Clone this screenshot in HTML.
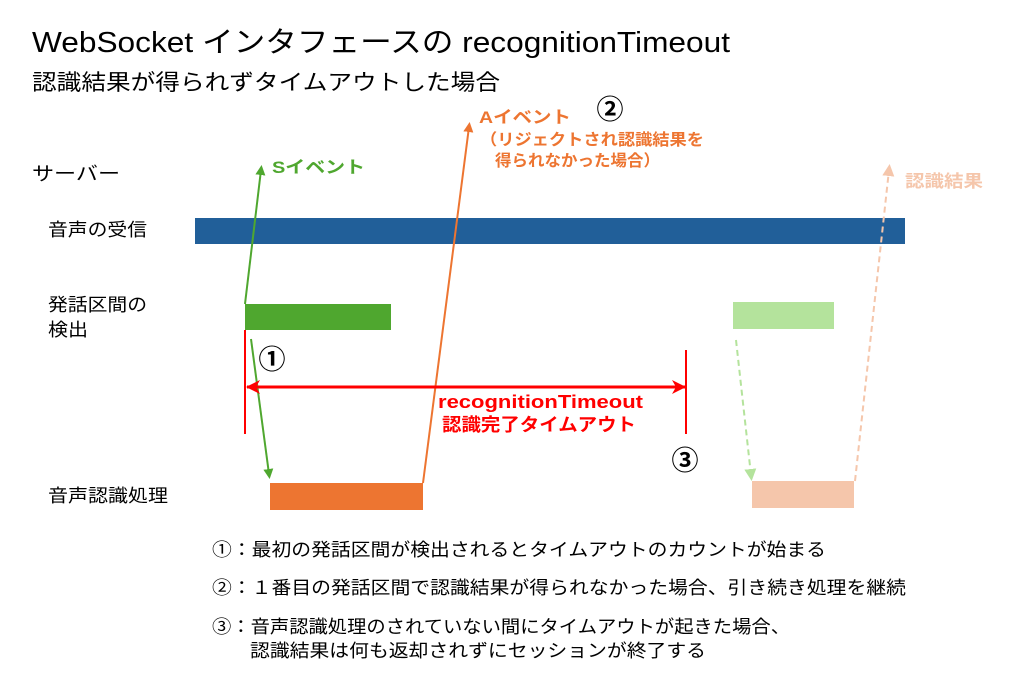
<!DOCTYPE html>
<html><head><meta charset="utf-8"><style>
body{margin:0;width:1024px;height:670px;background:#fff;overflow:hidden;font-family:"Liberation Sans","Noto Sans CJK JP",sans-serif;}
svg text{font-family:"Liberation Sans","Noto Sans CJK JP",sans-serif;}
</style></head><body>
<svg width="1024" height="670" xmlns="http://www.w3.org/2000/svg">
<defs>
<marker id="g" markerWidth="10" markerHeight="10" refX="5" refY="5" orient="auto" markerUnits="userSpaceOnUse"><path d="M0,0 L10,5 L0,10 z" fill="#4fa72f"/></marker>
<marker id="o" markerWidth="10" markerHeight="10" refX="5" refY="5" orient="auto" markerUnits="userSpaceOnUse"><path d="M0,0 L10,5 L0,10 z" fill="#ed7531"/></marker>
<marker id="lg" markerWidth="12" markerHeight="12" refX="6" refY="6" orient="auto" markerUnits="userSpaceOnUse"><path d="M0,0 L12,6 L0,12 z" fill="#b4e39c"/></marker>
<marker id="pc" markerWidth="12" markerHeight="12" refX="6" refY="6" orient="auto" markerUnits="userSpaceOnUse"><path d="M0,0 L12,6 L0,12 z" fill="#f5c6ab"/></marker>
<marker id="r" markerWidth="14" markerHeight="14" refX="13" refY="7" orient="auto" markerUnits="userSpaceOnUse"><path d="M0,0 L14,7 L0,14 L4,7 z" fill="#ff0000"/></marker>
</defs>
<g lengthAdjust="spacingAndGlyphs">
<text x="32" y="52" font-size="29" textLength="698" lengthAdjust="spacingAndGlyphs">WebSocket インタフェースの recognitionTimeout</text>
<text x="32" y="90" font-size="22" textLength="468" lengthAdjust="spacingAndGlyphs">認識結果が得られずタイムアウトした場合</text>
<text x="32" y="180" font-size="19" textLength="88" lengthAdjust="spacingAndGlyphs">サーバー</text>
<text x="48" y="236" font-size="18" textLength="99" lengthAdjust="spacingAndGlyphs">音声の受信</text>
<text x="48" y="311" font-size="18" textLength="99" lengthAdjust="spacingAndGlyphs">発話区間の</text>
<text x="48" y="336" font-size="18" textLength="40" lengthAdjust="spacingAndGlyphs">検出</text>
<text x="48" y="502" font-size="18" textLength="120" lengthAdjust="spacingAndGlyphs">音声認識処理</text>
</g>
<rect x="195" y="218" width="710" height="26" fill="#215f99"/>
<rect x="245" y="304" width="146" height="26" fill="#4fa72f"/>
<rect x="270" y="483" width="153" height="27" fill="#ed7531"/>
<rect x="733" y="302" width="101" height="27" fill="#b4e39c"/>
<rect x="752" y="481" width="102" height="27" fill="#f5c6ab"/>
<line x1="245" y1="304" x2="261" y2="170" stroke="#4fa72f" stroke-width="2" marker-end="url(#g)"/>
<line x1="251" y1="339" x2="269" y2="474" stroke="#4fa72f" stroke-width="2" marker-end="url(#g)"/>
<line x1="423" y1="483" x2="469" y2="127" stroke="#ed7531" stroke-width="2" marker-end="url(#o)"/>
<line x1="736" y1="340" x2="751" y2="475" stroke="#b4e39c" stroke-width="2" stroke-dasharray="6,4" marker-end="url(#lg)"/>
<line x1="855" y1="481" x2="889" y2="170" stroke="#f5c6ab" stroke-width="2" stroke-dasharray="6,4" marker-end="url(#pc)"/>
<line x1="245" y1="330" x2="245" y2="434" stroke="#ff0000" stroke-width="2"/>
<line x1="686" y1="350" x2="686" y2="434" stroke="#ff0000" stroke-width="2"/>
<line x1="262" y1="387" x2="685" y2="387" stroke="#ff0000" stroke-width="3" marker-end="url(#r)"/>
<line x1="670" y1="387" x2="247" y2="387" stroke="#ff0000" stroke-width="3" marker-end="url(#r)"/>
<text x="438" y="408" font-size="18" font-weight="bold" fill="#ff0000" textLength="205" lengthAdjust="spacingAndGlyphs">recognitionTimeout</text>
<text x="442" y="431" font-size="18" font-weight="bold" fill="#ff0000" textLength="194" lengthAdjust="spacingAndGlyphs">認識完了タイムアウト</text>
<text x="272" y="173" font-size="17" font-weight="bold" fill="#4fa72f" textLength="93" lengthAdjust="spacingAndGlyphs">Sイベント</text>
<text x="479" y="123" font-size="17" font-weight="bold" fill="#ed7531" textLength="92" lengthAdjust="spacingAndGlyphs">Aイベント</text>
<text x="480" y="145" font-size="16" font-weight="bold" fill="#ed7531" textLength="224" lengthAdjust="spacingAndGlyphs">（リジェクトされ認識結果を</text>
<text x="495" y="166" font-size="16" font-weight="bold" fill="#ed7531" textLength="165" lengthAdjust="spacingAndGlyphs">得られなかった場合）</text>
<text x="905" y="187" font-size="17" font-weight="bold" fill="#f5c6ab" textLength="78" lengthAdjust="spacingAndGlyphs">認識結果</text>
<text x="272" y="369" font-size="27" font-weight="bold" text-anchor="middle">①</text>
<text x="610" y="119" font-size="27" font-weight="bold" text-anchor="middle">②</text>
<text x="685" y="470" font-size="27" font-weight="bold" text-anchor="middle">③</text>
<text x="212" y="556" font-size="18" textLength="614" lengthAdjust="spacingAndGlyphs">①：最初の発話区間が検出されるとタイムアウトのカウントが始まる</text>
<text x="212" y="594" font-size="18" textLength="694" lengthAdjust="spacingAndGlyphs">②：１番目の発話区間で認識結果が得られなかった場合、引き続き処理を継続</text>
<text x="212" y="633" font-size="18" textLength="578" lengthAdjust="spacingAndGlyphs">③：音声認識処理のされていない間にタイムアウトが起きた場合、</text>
<text x="250" y="657" font-size="18" textLength="456" lengthAdjust="spacingAndGlyphs">認識結果は何も返却されずにセッションが終了する</text>
</svg>
</body></html>
